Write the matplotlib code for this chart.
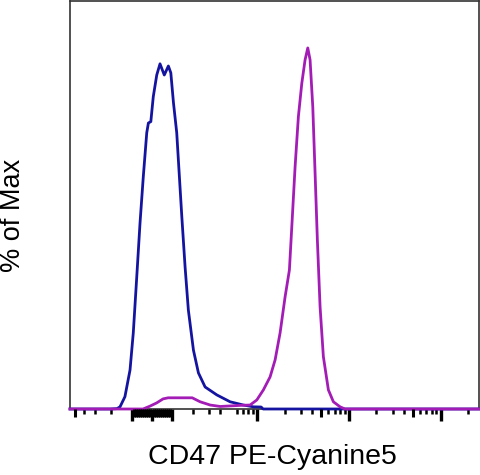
import numpy as np
import matplotlib
import matplotlib.pyplot as plt

matplotlib.use("Agg")

# CD47 PE-Cyanine5 histograms, x in fluorescence units, y in % of max
iso_x = [-563, -206.6, -172, -157, -133, -108, -92, -75, -59, -43, -26, -18, -6,
         6, 23, 39, 60, 80, 92, 105, 121, 129, 146, 162, 178, 203, 230, 272,
         365, 509, 711, 914, 1108, 1166, 262144]
iso_y = [0, 0, 0.1, 0.6, 3.4, 10.8, 21.1, 36.6, 51.5, 64.3, 76.5, 79.2, 79.6,
         86.5, 92.5, 95.6, 92.5, 95.0, 93.1, 84.8, 76.5, 69.0, 53.2, 39.3, 27.4,
         16.3, 10.0, 6.1, 3.9, 2.0, 1.1, 0.6, 0.55, 0, 0]

cd47_x = [-563, -44, -10, 23, 54, 79, 197, 240, 309, 397, 655, 841, 995, 1174,
          1389, 1575, 1785, 2024, 2254, 2394, 2600, 2824, 3076, 3340, 3574, 3786,
          4052, 4292, 4546, 4866, 5284, 5992, 6792, 8036, 9106, 262144]
cd47_y = [0, 0, 0.8, 1.7, 2.8, 3.1, 3.1, 2.0, 1.1, 0.7, 1.0, 1.1, 2.5, 5.3,
          8.9, 13.6, 21.1, 31.1, 38.5, 50.5, 67.1, 81.0, 90.2, 96.7, 100, 96.7,
          83.7, 65.4, 46.8, 28.3, 14.5, 5.3, 2.0, 0.6, 0, 0]

major_ticks = [-100, 0, 100, 1e3, 1e4, 1e5]
mid_ticks = [-500, 5e3, 5e4] + [v for v in range(-90, 100, 10) if v != 0]
minor_ticks = (
    [-400, -300, -200]
    + [200, 300, 400, 600, 700, 800, 900]
    + [2e3, 3e3, 4e3, 6e3, 7e3, 8e3, 9e3]
    + [2e4, 3e4, 4e4, 6e4, 7e4, 8e4, 9e4]
    + [2e5]
)

xlim = (-563, 262144)

fig = plt.figure(figsize=(4.8, 4.75), dpi=100)
ax = fig.add_axes([70 / 480, 1 - 409 / 475, 409 / 480, 408 / 475])

ax.set_xscale("symlog", linthresh=200, linscale=0.4)
ax.set_xlim(*xlim)
ax.set_ylim(0, 113)

# medium-length ticks live on a twin axis with the same scale
ax2 = ax.twiny()
ax2.set_xscale("symlog", linthresh=200, linscale=0.4)
ax2.set_xlim(*xlim)
ax2.set_xticks(mid_ticks)
ax2.xaxis.set_minor_locator(matplotlib.ticker.NullLocator())
ax2.tick_params(axis="x", which="major", bottom=True, top=False,
                labelbottom=False, labeltop=False, direction="out",
                length=6, width=2.2, color="black")
for side in ax2.spines:
    ax2.spines[side].set_visible(False)

ax.plot(iso_x, iso_y, color="#1414a0", lw=2.0, clip_on=False, zorder=3)
ax.plot(cd47_x, cd47_y, color="#a31cb5", lw=2.0, clip_on=False, zorder=4)

for side in ["left", "top", "right", "bottom"]:
    ax.spines[side].set_color("#333333")
    ax.spines[side].set_linewidth(1.2)

ax.set_yticks([])
ax.set_xticks(major_ticks)
ax.set_xticks(minor_ticks, minor=True)
ax.tick_params(axis="x", which="major", direction="out", length=8.5, width=2.4,
               color="black", labelbottom=False)
ax.tick_params(axis="x", which="minor", direction="out", length=3.5, width=1.8,
               color="black")

fig.text(272 / 480, 1 - 457 / 475, "CD47 PE-Cyanine5", ha="center", va="center",
         fontsize=20.5, family="Liberation Sans")
fig.text(13 / 480, 1 - 215 / 475, "% of Max", ha="center", va="center",
         rotation=90, fontsize=19.5, family="Liberation Sans")

fig.savefig("out.png", dpi=100)
